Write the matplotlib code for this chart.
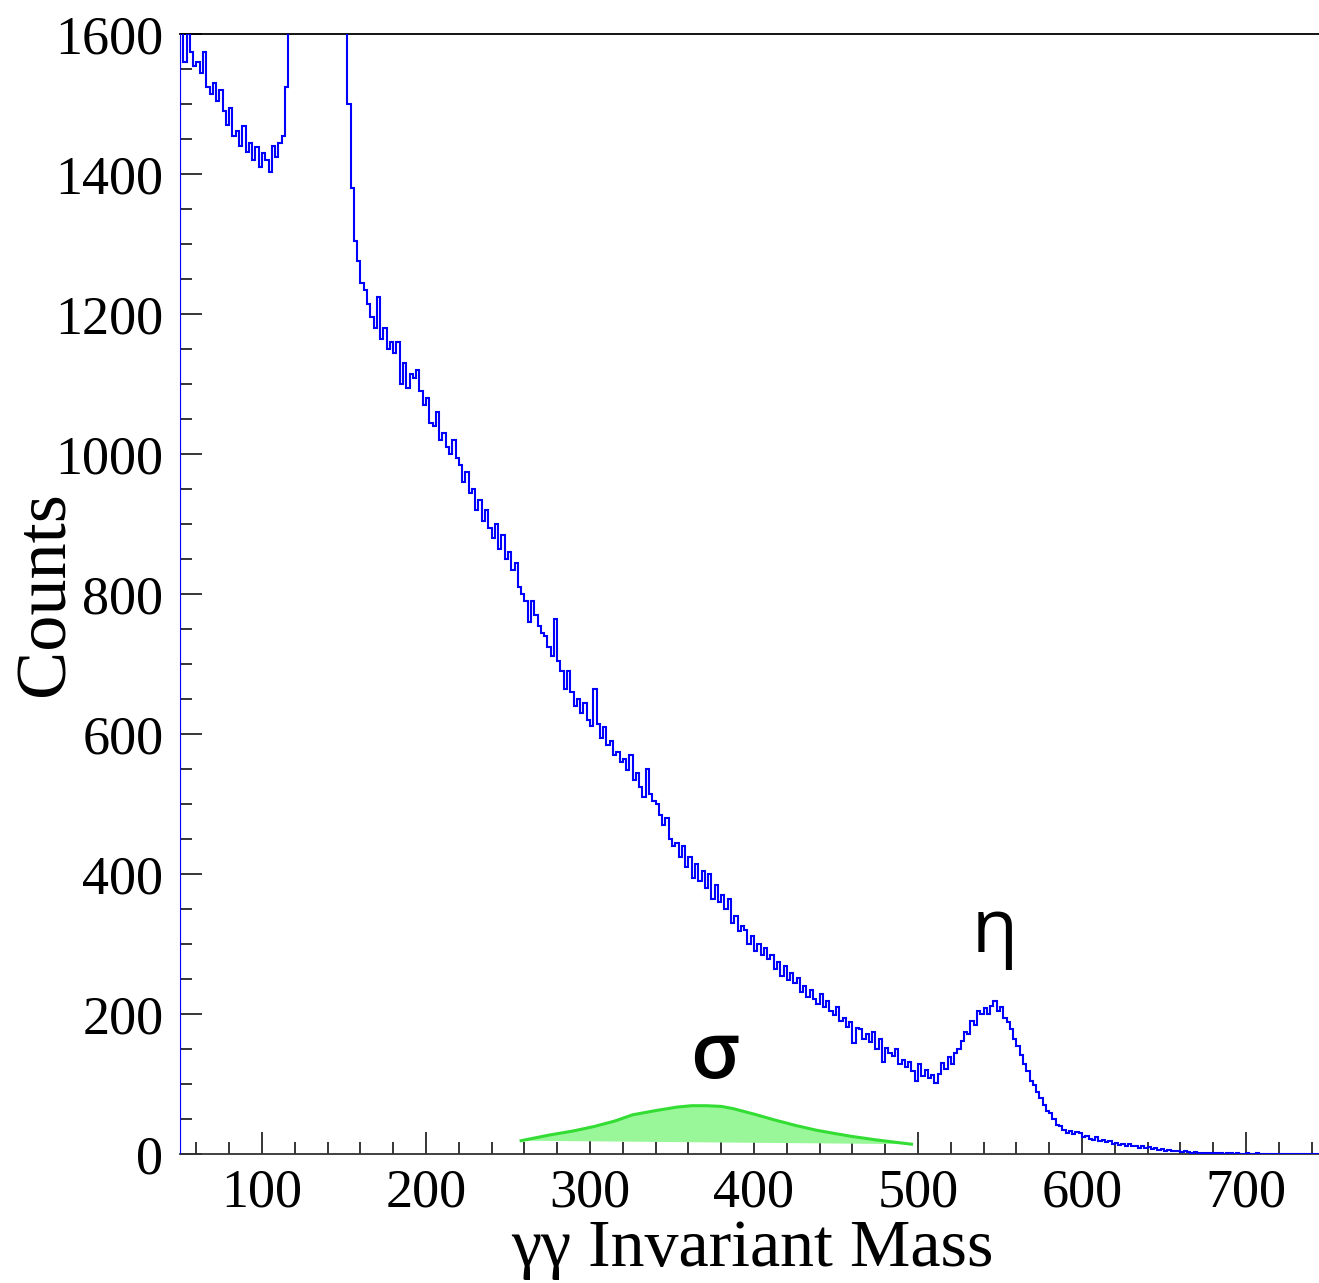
import numpy as np
import matplotlib.pyplot as plt
from matplotlib.ticker import MultipleLocator

# histogram binning (gamma-gamma invariant mass)
bin_lo = 50
bin_hi = 750
bin_width = 2

# counts per bin, 10 bins (20 units) per row
counts = [
    1615, 1560, 1600, 1575, 1555, 1560, 1545, 1575, 1525, 1515,  # 50
    1530, 1505, 1520, 1490, 1470, 1495, 1455, 1462, 1440, 1468,  # 70
    1432, 1445, 1420, 1438, 1410, 1430, 1420, 1403, 1440, 1425,  # 90
    1445, 1455, 1525, 1640, 1750, 2100, 2600, 3200, 3900, 4600,  # 110
    5200, 5600, 5800, 5600, 5100, 4400, 3600, 2900, 2300, 1900,  # 130
    1640, 1500, 1380, 1305, 1276, 1245, 1234, 1215, 1196, 1180,  # 150
    1225, 1165, 1180, 1150, 1160, 1145, 1160, 1100, 1130, 1095,  # 170
    1115, 1108, 1120, 1090, 1070, 1080, 1045, 1040, 1060, 1020,  # 190
    1030, 1010, 1000, 1020, 995, 985, 960, 975, 945, 950,  # 210
    920, 935, 905, 920, 895, 880, 900, 865, 885, 850,  # 230
    860, 835, 845, 810, 800, 790, 760, 790, 770, 755,  # 250
    745, 740, 725, 712, 765, 705, 690, 665, 690, 660,  # 270
    640, 650, 630, 645, 620, 612, 665, 615, 595, 610,  # 290
    585, 590, 570, 575, 560, 565, 548, 570, 535, 545,  # 310
    525, 510, 550, 515, 505, 500, 485, 470, 480, 450,  # 330
    440, 445, 425, 440, 410, 425, 395, 415, 390, 405,  # 350
    380, 400, 365, 385, 360, 370, 350, 365, 330, 340,  # 370
    318, 326, 320, 300, 312, 290, 300, 285, 295, 278,  # 390
    285, 265, 275, 255, 268, 248, 258, 245, 252, 232,  # 410
    240, 225, 235, 222, 215, 228, 210, 218, 205, 198,  # 430
    210, 190, 195, 182, 188, 158, 180, 178, 165, 172,  # 450
    160, 175, 150, 165, 132, 152, 145, 140, 150, 128,  # 470
    135, 125, 132, 118, 105, 128, 112, 120, 108, 113,  # 490
    102, 115, 130, 122, 138, 128, 145, 150, 162, 175,  # 510
    172, 190, 185, 205, 200, 208, 200, 212, 218, 205,  # 530
    210, 195, 188, 178, 165, 155, 142, 128, 118, 105,  # 550
    98, 88, 80, 70, 62, 58, 50, 42, 40, 35,  # 570
    30, 33, 28, 32, 30, 24, 26, 22, 20, 24,  # 590
    18, 20, 17, 19, 15, 16, 13, 15, 12, 14,  # 610
    11, 12, 9, 11, 8, 10, 7, 8, 6, 7,  # 630
    5, 6, 4, 5, 4, 3, 4, 3, 2, 3,  # 650
    2, 2, 1, 2, 1, 1, 2, 1, 0, 1,  # 670
    1, 0, 1, 0, 0, 1, 0, 0, 1, 0,  # 690
    0, 0, 0, 0, 0, 0, 0, 0, 0, 0,  # 710
    0, 0, 0, 0, 0, 0, 0, 0, 0, 0,  # 730
]

# sigma bump (green filled shape)
sigma_x = [258, 275, 290, 302, 315, 326, 340, 353, 362, 371,
           380, 387, 400, 412, 425, 438, 450, 460, 475, 496]
sigma_y = [19, 27, 33, 39, 47, 56, 62, 67, 69, 69,
           68, 65, 57, 49, 41, 34, 29, 25, 20, 14]

edges = np.arange(bin_lo, bin_hi + bin_width, bin_width)

serif = "Liberation Serif"

fig = plt.figure(figsize=(13.19, 12.83), dpi=100)
ax = fig.add_axes([180 / 1319, 129 / 1283, 1148 / 1319, 1120 / 1283])

ax.fill(sigma_x, sigma_y, color="#99f799", lw=0, zorder=2)
ax.plot(sigma_x, sigma_y, color="#33dd33", lw=2.2, zorder=3)

ax.stairs(counts, edges, baseline=0, color="#0000ff", lw=1.5, zorder=4)

ax.set_xlim(bin_lo, bin_hi)
ax.set_ylim(0, 1600)

ax.xaxis.set_major_locator(MultipleLocator(100))
ax.xaxis.set_minor_locator(MultipleLocator(20))
ax.yaxis.set_major_locator(MultipleLocator(200))
ax.yaxis.set_minor_locator(MultipleLocator(50))

ax.tick_params(which="both", direction="in", top=False, right=False,
               width=1.1, color="black")
ax.tick_params(which="major", length=16)
ax.tick_params(which="minor", length=8.5)
ax.tick_params(axis="x", which="major", pad=10)
ax.tick_params(axis="y", which="major", pad=12)

for lab in ax.get_xticklabels() + ax.get_yticklabels():
    lab.set_fontfamily(serif)
    lab.set_fontsize(39)

ax.spines["left"].set_color("#0000ff")
ax.spines["right"].set_visible(False)
ax.spines["top"].set_linewidth(1.3)
ax.spines["bottom"].set_linewidth(1.3)
ax.spines["bottom"].set_color("#333333")

# x title placed by its baseline so the gamma descenders stay inside
fig.text(752 / 1319, (1283 - 1266) / 1283, "γγ Invariant Mass",
         fontfamily=serif, fontsize=49, ha="center", va="baseline")
ax.set_ylabel("Counts", fontfamily=serif, fontsize=52)
ax.yaxis.set_label_coords(-0.088, 0.5)

ax.text(547, 316, "η", fontfamily="Open Sans", fontsize=54,
        ha="center", va="center")
ax.text(376, 137, "σ", fontfamily="Open Sans", fontsize=56,
        fontweight="semibold", ha="center", va="center")

fig.savefig("out.png", dpi=100)
